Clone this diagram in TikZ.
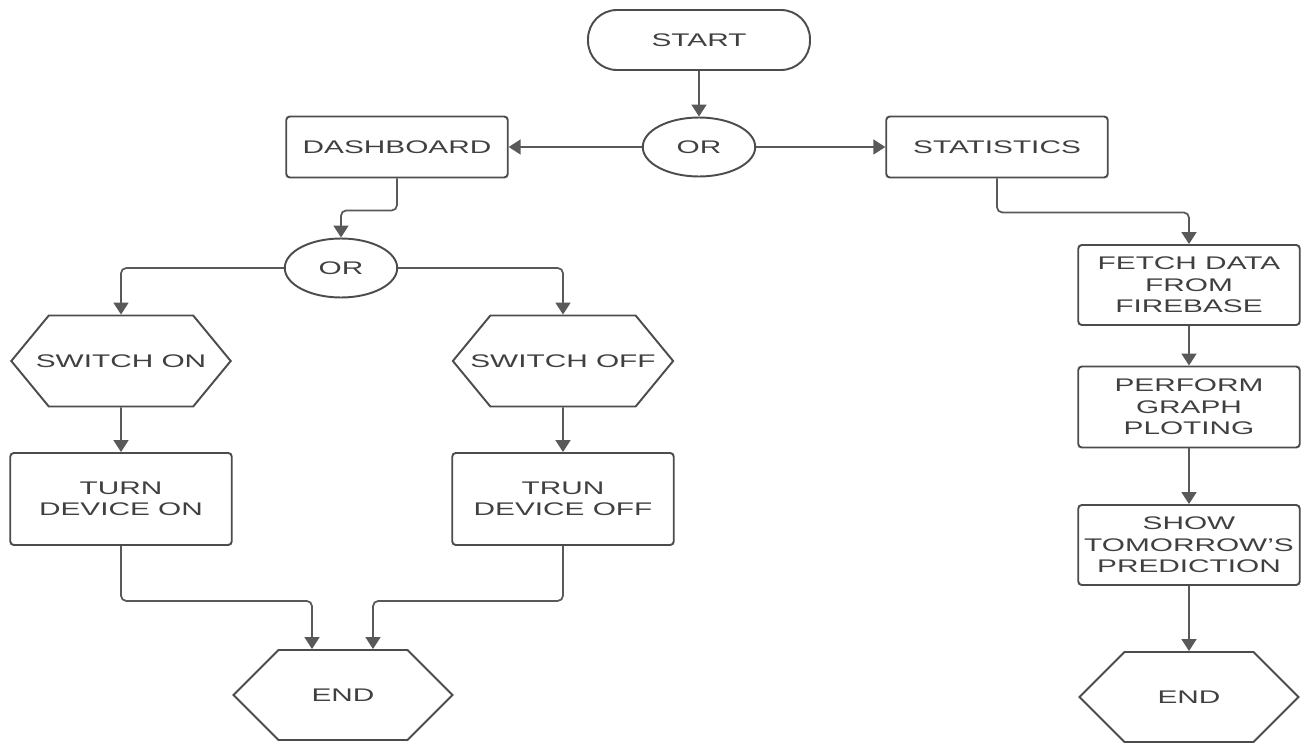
\documentclass[tikz,border=0pt]{standalone}
\usepackage{fontspec}
\setmainfont{Liberation Sans}[FakeStretch=1.63]
\usetikzlibrary{shapes.geometric,shapes.symbols,arrows.meta}

\begin{document}
\begin{tikzpicture}
  [x=0.02cm,y=-0.02cm,
   every node/.style={draw=black!70,line width=1.1pt,text=black!75,align=center,inner sep=0pt,
     font=\fontsize{10.4}{12.2}\selectfont},
   box/.style={rectangle,rounded corners=2pt,minimum width=4.43cm},
   gate/.style={ellipse,minimum width=2.25cm,minimum height=1.18cm},
   hexa/.style={signal,signal to=west and east,minimum width=4.38cm,minimum height=1.82cm},
   pill/.style={rectangle,rounded corners=0.58cm},
   arr/.style={draw=black!65,line width=1pt,rounded corners=3pt,-{Triangle[length=0.24cm,width=0.3cm]}}]
  \useasboundingbox (0,0) rectangle (1303,747);

  \node [pill,minimum width=4.44cm,minimum height=1.2cm] (start) at (699,40) {START};
  \node [gate] (or1) at (699,147) {OR};
  \node [box,minimum height=1.22cm] (dash) at (397,147) {DASHBOARD};
  \node [box,minimum height=1.22cm] (stat) at (997,147) {STATISTICS};
  \node [gate] (or2) at (341,268) {OR};
  \node [hexa,signal pointer angle=101,minimum width=0pt,inner xsep=-0.26cm] (swon) at (121,361) {SWITCH ON};
  \node [hexa,signal pointer angle=101,minimum width=0pt,inner xsep=-0.4cm] (swoff) at (563,361) {SWITCH OFF};
  \node [box,minimum height=1.84cm] (devon) at (121,499) {TURN\\DEVICE ON};
  \node [box,minimum height=1.84cm] (devoff) at (563,499) {TRUN\\DEVICE OFF};
  \node [hexa,signal pointer angle=90,minimum height=1.8cm] (end1) at (343,695) {END};
  \node [box,minimum height=1.6cm] (fetch) at (1189,285) {FETCH DATA\\FROM\\FIREBASE};
  \node [box,minimum height=1.62cm] (plot) at (1189,407) {PERFORM\\GRAPH\\PLOTING};
  \node [box,minimum height=1.6cm] (show) at (1189,545) {SHOW\\TOMORROW'S\\PREDICTION};
  \node [hexa,signal pointer angle=90,minimum height=1.8cm] (end2) at (1189,697) {END};

  \foreach \from/\to in {start/or1,swon/devon,swoff/devoff,fetch/plot,plot/show,show/end2}
    \draw [arr] (\from) -- (\to);
  \draw [arr] (or1) -- (dash);
  \draw [arr] (or1) -- (stat);

  \draw [arr] (dash.south) -- ++(0,32) -| (or2.north);
  \draw [arr] (or2.west) -| (swon.north);
  \draw [arr] (or2.east) -| (swoff.north);
  \draw [arr] (devon.south) -- ++(0,55) -| ([xshift=-0.62cm]end1.north);
  \draw [arr] (devoff.south) -- ++(0,55) -| ([xshift=0.6cm]end1.north);
  \draw [arr] (stat.south) -- ++(0,34) -| (fetch.north);

\end{tikzpicture}
\end{document}
